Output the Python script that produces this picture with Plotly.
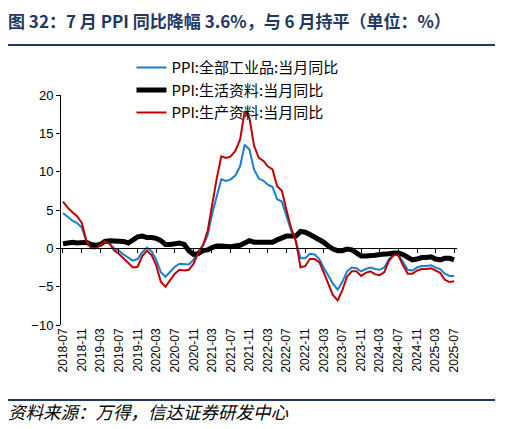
import pandas as pd
import plotly.graph_objects as go

# monthly, 2018-07 .. 2025-07
months = pd.date_range("2018-07-01", "2025-07-01", freq="MS")

ppi_all = [
    4.6, 4.1, 3.6, 3.3, 2.7, 0.9,
    0.1, 0.1, 0.4, 0.9, 0.6, 0.0, -0.3, -0.8, -1.2, -1.6, -1.4, -0.5,
    0.1, -0.4, -1.5, -3.1, -3.7, -3.0, -2.4, -2.0, -2.1, -2.1, -1.5, -0.4,
    0.3, 1.7, 4.4, 6.8, 9.0, 8.8, 9.0, 9.5, 10.7, 13.5, 12.9, 10.3,
    9.1, 8.8, 8.3, 8.0, 6.4, 6.1, 4.2, 2.3, 0.9, -1.3, -1.3, -0.7,
    -0.8, -1.4, -2.5, -3.6, -4.6, -5.4, -4.4, -3.0, -2.5, -2.6, -3.0, -2.7,
    -2.5, -2.7, -2.8, -2.5, -1.4, -0.8, -0.8, -1.8, -2.8, -2.9, -2.5, -2.3,
    -2.3, -2.2, -2.5, -2.7, -3.3, -3.6, -3.6,
]
ppi_consumer = [
    0.6, 0.7, 0.8, 0.7, 0.8, 0.8,
    0.5, 0.4, 0.5, 0.9, 1.0, 1.0, 1.0, 0.9, 0.7, 1.1, 1.5, 1.6,
    1.4, 1.4, 1.3, 1.0, 0.5, 0.5, 0.6, 0.7, 0.5, -0.3, -0.8, -0.7,
    -0.3, -0.2, 0.1, 0.3, 0.3, 0.2, 0.2, 0.3, 0.4, 0.7, 1.0, 0.8,
    0.8, 0.7, 0.7, 0.8, 1.1, 1.4, 1.6, 1.6, 1.6, 2.2, 2.1, 1.8,
    1.5, 1.2, 0.8, 0.3, -0.1, -0.3, -0.3, -0.1, -0.2, -0.6, -1.0, -1.0,
    -1.0, -0.9, -0.8, -0.8, -0.7, -0.6, -0.6, -0.8, -1.2, -1.5, -1.4, -1.2,
    -1.2, -1.1, -1.4, -1.5, -1.3, -1.3, -1.5,
]
ppi_producer = [
    6.1, 5.3, 4.7, 4.2, 3.3, 1.0,
    0.0, 0.0, 0.4, 0.9, 0.6, -0.3, -0.7, -1.3, -1.9, -2.5, -2.4, -1.0,
    -0.3, -0.9, -2.2, -4.4, -5.0, -4.1, -3.3, -2.8, -2.9, -2.8, -2.0, -0.6,
    0.4, 2.3, 5.6, 9.1, 12.0, 11.8, 12.0, 12.7, 14.2, 17.9, 17.0, 13.4,
    11.8, 11.4, 10.7, 10.3, 8.1, 7.5, 5.0, 2.6, 0.9, -2.5, -2.3, -1.4,
    -1.4, -1.8, -3.1, -4.7, -6.1, -6.8, -5.5, -3.7, -3.0, -3.0, -3.6, -3.2,
    -3.0, -3.4, -3.5, -3.1, -1.6, -0.9, -0.9, -2.2, -3.3, -3.3, -2.9, -2.7,
    -2.7, -2.6, -2.9, -3.2, -4.1, -4.4, -4.3,
]

names = ["PPI:全部工业品:当月同比", "PPI:生活资料:当月同比", "PPI:生产资料:当月同比"]
title = "图 32：7 月 PPI 同比降幅 3.6%，与 6 月持平（单位：%）"
source = "资料来源：万得，信达证券研发中心"

NAVY = "#1F3864"
CJK = "Noto Sans CJK SC"
LAT = "Liberation Sans, Arial"

fig = go.Figure()
fig.add_trace(go.Scatter(x=months, y=ppi_all, name=names[0], mode="lines",
                         line=dict(color="#1B7FCF", width=2)))
fig.add_trace(go.Scatter(x=months, y=ppi_consumer, name=names[1], mode="lines",
                         line=dict(color="#000000", width=5)))
fig.add_trace(go.Scatter(x=months, y=ppi_producer, name=names[2], mode="lines",
                         line=dict(color="#C00000", width=2)))

x_range = ["2018-06-18", "2025-07-20"]
y_lo, y_hi = -10, 20

# page body adds an 8px offset, so the figure is 8px smaller and shifted margins
fig.update_layout(
    width=501, height=421,
    margin=dict(l=53, r=52, t=87, b=104, autoexpand=False),
    plot_bgcolor="white", paper_bgcolor="white",
    showlegend=True,
    legend=dict(x=0.178, y=1.19, xanchor="left", yanchor="top",
                font=dict(family=CJK, size=15, color="black"),
                bgcolor="rgba(0,0,0,0)", tracegroupgap=0),
    xaxis=dict(type="date", range=x_range, anchor="free",
               position=(0 - y_lo) / (y_hi - y_lo),
               showline=True, linecolor="black", linewidth=1,
               ticks="outside", ticklen=4, tickcolor="black",
               tick0="2018-07-01", dtick="M4", showticklabels=False,
               showgrid=False, zeroline=False),
    xaxis2=dict(type="date", range=x_range, overlaying="x", anchor="y", side="bottom",
                tick0="2018-07-01", dtick="M4", tickformat="%Y-%m", tickangle=-90,
                tickfont=dict(family=LAT, size=12, color="black"),
                showline=False, ticks="", showgrid=False, zeroline=False),
    yaxis=dict(range=[y_lo, y_hi], dtick=5, showline=True, linecolor="black",
               linewidth=1, ticks="outside", ticklen=4, tickcolor="black",
               tickfont=dict(family=LAT, size=13, color="black"),
               showgrid=False, zeroline=False),
)
# dummy invisible trace so xaxis2 draws its labels
fig.add_trace(go.Scatter(x=[months[0]], y=[None], xaxis="x2", showlegend=False,
                         hoverinfo="skip"))

fig.add_annotation(text=title, xref="paper", yref="paper", x=-0.14, y=1.325,
                   xanchor="left", yanchor="middle", showarrow=False,
                   font=dict(family=CJK, size=17, color=NAVY, weight="bold"))
fig.add_annotation(text=source, xref="paper", yref="paper", x=-0.14, y=-0.378,
                   xanchor="left", yanchor="middle", showarrow=False,
                   font=dict(family=CJK, size=17.5, color="black", style="italic"))

for yy in (1.217, -0.326):
    fig.add_shape(type="line", xref="paper", yref="paper", x0=-0.141, x1=1.096,
                  y0=yy, y1=yy, line=dict(color=NAVY, width=2))

fig.write_html("out.html")
